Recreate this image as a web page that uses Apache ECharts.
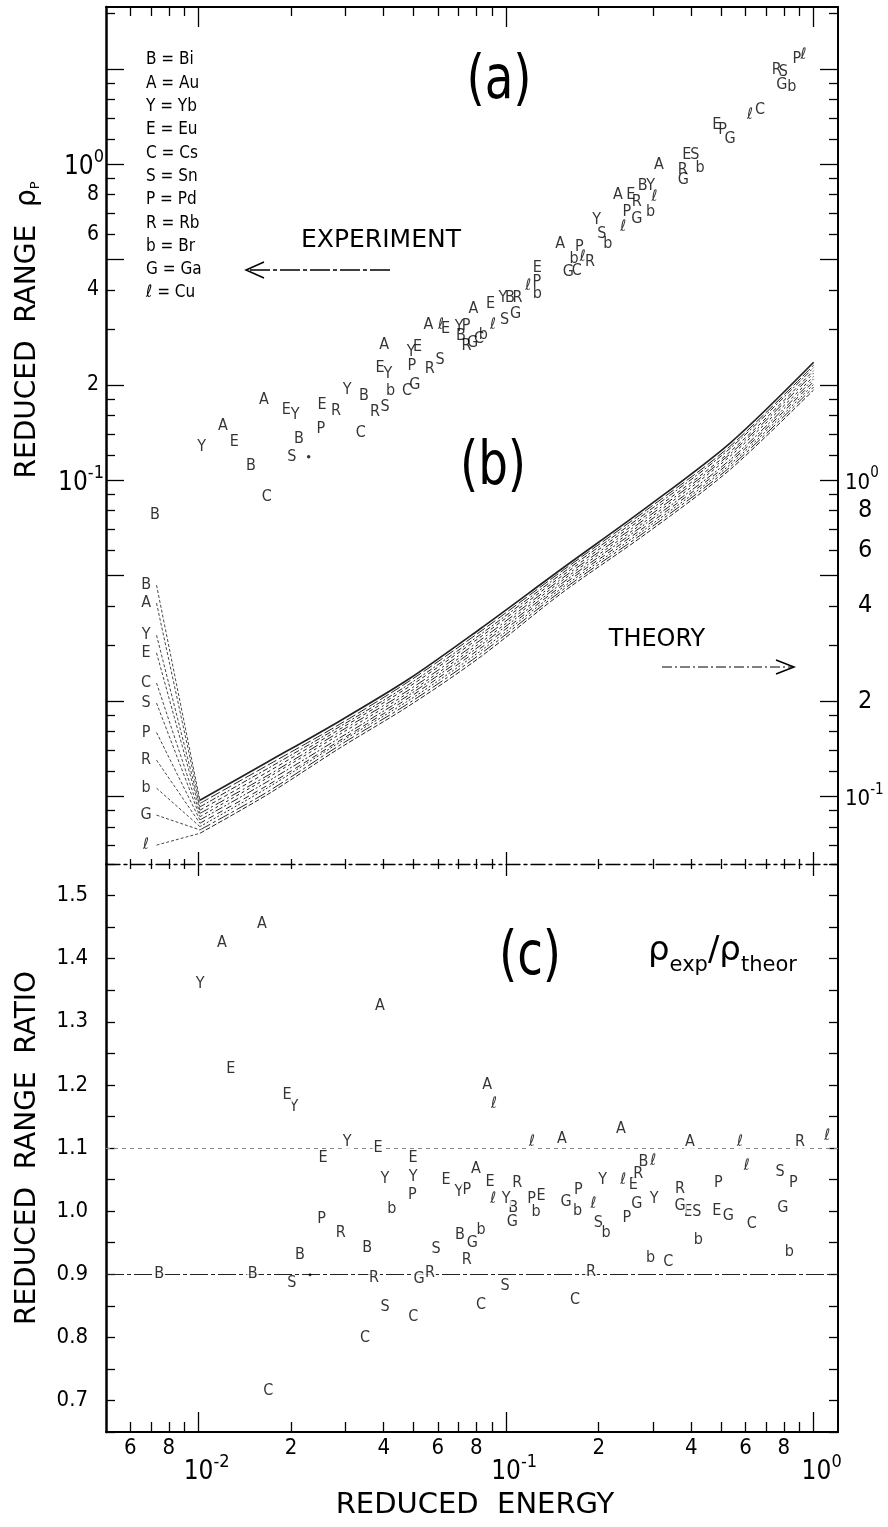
<!DOCTYPE html>
<html><head><meta charset="utf-8">
<script src="https://cdn.jsdelivr.net/npm/echarts@6/dist/echarts.min.js"></script>
<style>html,body{margin:0;padding:0;background:#fff}#c{width:888px;height:1527px}</style>
</head><body><div id="c"></div>
<script>
// ---------------- DATA ----------------
const elementLetters = ['B','A','Y','E','C','S','P','R','b','G','ℓ'];
const elementNames   = ['Bi','Au','Yb','Eu','Cs','Sn','Pd','Rb','Br','Ga','Cu'];

// (a) experiment: [reduced energy, reduced range rho_p]
const rangeBi = [[0.00721,0.0775],[0.0148,0.111],[0.0212,0.1355],[0.0345,0.1845],[0.0713,0.2867],[0.103,0.3767],[0.278,0.854]];
const rangeAu = [[0.0120,0.149],[0.0163,0.179],[0.0401,0.2675],[0.0559,0.309],[0.0783,0.349],[0.150,0.561],[0.231,0.798],[0.314,0.993]];
const rangeYb = [[0.01023,0.1274],[0.0206,0.1606],[0.0304,0.1927],[0.0413,0.2165],[0.0491,0.2551],[0.0703,0.3049],[0.0977,0.3767],[0.197,0.665],[0.295,0.854]];
const rangeEu = [[0.01306,0.1322],[0.0193,0.1665],[0.0252,0.1727],[0.0389,0.2262],[0.0515,0.2636],[0.0635,0.3016],[0.0890,0.3606],[0.1264,0.4688],[0.2542,0.798],[0.387,1.068],[0.484,1.329]];
const rangeCs = [[0.01665,0.0884],[0.0337,0.1412],[0.0476,0.1913],[0.0816,0.2793],[0.1697,0.4596],[0.669,1.482]];
const rangeSn = [[0.0201,0.1185],[0.0404,0.1709],[0.0610,0.2398],[0.0988,0.3221],[0.2046,0.6036],[0.411,1.068],[0.797,1.960]];
const rangePd = [[0.0250,0.1457],[0.0494,0.2303],[0.0741,0.3071],[0.1258,0.4242],[0.1730,0.5474],[0.2467,0.7066],[0.506,1.281],[0.881,2.160]];
const rangeRb = [[0.0280,0.1654],[0.0375,0.1641],[0.0565,0.2246],[0.0743,0.2655],[0.1089,0.3767],[0.1875,0.4907],[0.2659,0.7598],[0.3752,0.9572],[0.759,1.984]];
const rangeBr = [[0.0421,0.1920],[0.0843,0.2877],[0.1264,0.3878],[0.1663,0.5030],[0.2140,0.5612],[0.2952,0.7066],[0.4272,0.9712],[0.849,1.757]];
const rangeGa = [[0.0505,0.1998],[0.0778,0.2723],[0.1073,0.3353],[0.1594,0.4563],[0.2659,0.6733],[0.3769,0.8901],[0.5348,1.206],[0.788,1.778]];
const rangeCu = [[0.0614,0.3094],[0.0907,0.3094],[0.1181,0.4126],[0.1775,0.5089],[0.2405,0.6332],[0.3034,0.7880],[0.621,1.429],[0.926,2.213]];
const rangeDot = [[0.0228,0.1185]];

// (b) theory (right-hand axis): reduced range at theoryEnergy
const theoryEnergy = [0.0073,0.0101,0.0167,0.0288,0.0487,0.0822,0.153,0.287,0.535,1.0];
const theoryLetterEnergy = 0.00675;
const theoryBi = [0.465,0.0971,0.128,0.173,0.236,0.338,0.527,0.821,1.31,2.36];
const theoryAu = [0.408,0.0948,0.125,0.169,0.232,0.331,0.518,0.806,1.28,2.31];
const theoryYb = [0.323,0.0925,0.122,0.166,0.227,0.324,0.509,0.791,1.26,2.27];
const theoryEu = [0.284,0.0903,0.119,0.163,0.223,0.318,0.500,0.776,1.23,2.22];
const theoryCs = [0.228,0.0882,0.116,0.160,0.218,0.311,0.491,0.761,1.21,2.18];
const theorySn = [0.197,0.0861,0.114,0.157,0.214,0.305,0.483,0.747,1.19,2.13];
const theoryPd = [0.159,0.0841,0.111,0.153,0.210,0.299,0.474,0.733,1.16,2.09];
const theoryRb = [0.130,0.0821,0.108,0.150,0.206,0.293,0.466,0.719,1.14,2.05];
const theoryBr = [0.106,0.0801,0.106,0.148,0.202,0.287,0.458,0.706,1.12,2.01];
const theoryGa = [0.0871,0.0782,0.103,0.145,0.198,0.281,0.450,0.693,1.10,1.97];
const theoryCu = [0.0700,0.0763,0.101,0.142,0.194,0.275,0.442,0.680,1.08,1.93];

// (c) ratio rho_exp / rho_theor
const ratioBi = [[0.00745,0.900],[0.01499,0.900],[0.02137,0.930],[0.03537,0.942],[0.07082,0.962],[0.1055,1.005],[0.2794,1.078]];
const ratioAu = [[0.01191,1.425],[0.01608,1.455],[0.0389,1.325],[0.0798,1.067],[0.0867,1.200],[0.152,1.115],[0.236,1.130],[0.396,1.110]];
const ratioYb = [[0.01011,1.360],[0.02043,1.165],[0.03039,1.110],[0.04038,1.051],[0.0499,1.054],[0.07028,1.030],[0.09993,1.019],[0.2062,1.049],[0.3027,1.020]];
const ratioEu = [[0.01274,1.225],[0.01939,1.185],[0.02538,1.085],[0.03832,1.100],[0.04983,1.085],[0.06376,1.049],[0.08863,1.046],[0.1299,1.024],[0.2593,1.041],[0.3913,0.999],[0.4842,1.001]];
const ratioCs = [[0.01685,0.715],[0.03476,0.799],[0.0499,0.832],[0.08286,0.852],[0.1675,0.859],[0.337,0.919],[0.6291,0.980]];
const ratioSn = [[0.02009,0.886],[0.04038,0.849],[0.05916,0.941],[0.09918,0.881],[0.1995,0.982],[0.4167,0.999],[0.7775,1.062]];
const ratioPd = [[0.02513,0.988],[0.04955,1.025],[0.07446,1.033],[0.1211,1.019],[0.1717,1.033],[0.2467,0.989],[0.4899,1.044],[0.859,1.045]];
const ratioRb = [[0.02898,0.966],[0.03719,0.894],[0.05654,0.902],[0.07446,0.923],[0.1087,1.045],[0.1888,0.904],[0.2691,1.059],[0.3677,1.036],[0.9033,1.110]];
const ratioBr = [[0.04246,1.004],[0.08286,0.970],[0.1251,0.999],[0.1709,1.001],[0.2113,0.965],[0.2952,0.926],[0.4217,0.954],[0.8337,0.935]];
const ratioGa = [[0.05208,0.893],[0.07765,0.949],[0.1047,0.983],[0.1566,1.015],[0.2659,1.012],[0.3677,1.009],[0.5281,0.993],[0.7934,1.005]];
const ratioCu = [[0.09086,1.019],[0.09134,1.170],[0.1214,1.110],[0.1922,1.012],[0.2405,1.049],[0.3011,1.080],[0.5763,1.110],[0.6058,1.072],[1.106,1.120]];
const ratioDot = [[0.02303,0.899]];
const ratioRefLines = [0.9, 1.1];

// axis ranges and tick values
const X_MIN = 0.005, X_MAX = 1.2;
const YA_MIN = 0.0061, YA_MAX = 3.14;
const THEORY_FACTOR = 10;
const YC_MIN = 0.65, YC_MAX = 1.55;
const xMinorTicks = [0.006,0.007,0.008,0.009,0.02,0.03,0.04,0.05,0.06,0.07,0.08,0.09,0.2,0.3,0.4,0.5,0.6,0.7,0.8,0.9];
const xDecadeTicks = [0.01,0.1,1];
const xDigitLabels = [0.006,0.008,0.02,0.04,0.06,0.08,0.2,0.4,0.6,0.8];
const yMinorTicks = [0.007,0.008,0.009,0.012,0.014,0.016,0.018,0.03,0.04,0.06,0.07,0.08,0.09,0.12,0.14,0.16,0.18,0.3,0.4,0.6,0.7,0.8,0.9,1.2,1.4,1.6,1.8,3];
const yMajorTicks = [0.01,0.02,0.05,0.1,0.2,0.5,1,2];
const yLeftDigitLabels = [0.2,0.4,0.6,0.8];
const yLeftDecadeLabels = [0.1,1];
const yRightDigitLabels = [0.02,0.04,0.06,0.08];
const yRightDecadeLabels = [0.01,0.1];
const ratioLabels = [0.7,0.8,0.9,1.0,1.1,1.2,1.3,1.4,1.5];

// ---------------- CHART ----------------
const FONT = "'DejaVu Sans Condensed','Liberation Sans Narrow','DejaVu Sans',sans-serif";
const FONT_W = "'DejaVu Sans','Liberation Sans',sans-serif";
const INK = '#000';
const lg = a => a.map(v => Math.log10(v));
const LX0 = Math.log10(X_MIN), LX1 = Math.log10(X_MAX);
const LY0 = Math.log10(YA_MIN), LY1 = Math.log10(YA_MAX);

const digitFmt = v => { const e = Math.floor(v + 1e-9); return String(Math.round(Math.pow(10, v - e))); };
const decadeFmt = (shift, spacer) => v => (spacer ? '{sp|}' : '') + '{b|10}{s|' + (Math.round(v) + shift) + '}';
const decadeRich = (bs, ss) => ({
  b: {fontSize: bs, fontFamily: FONT, color: INK, padding: [6,0,0,0]},
  s: {fontSize: ss, fontFamily: FONT, color: INK, verticalAlign: 'top'},
  sp: {width: 16}
});

function deco(grid, position, lo, hi, o) {
  const ax = {
    type: 'value', gridIndex: grid, position: position, min: lo, max: hi, silent: true,
    axisLine: {show: !!o.line, onZero: false, lineStyle: Object.assign({color: INK, width: 2}, o.line || {})},
    axisTick: {show: !!o.ticks, inside: true, length: o.len || 8, lineStyle: {color: INK, width: 1.3}},
    axisLabel: {show: false},
    splitLine: {show: false}
  };
  if (o.ticks) ax.axisTick.customValues = o.ticks;
  if (o.labels) {
    ax.axisLabel = {show: true, customValues: o.labels, formatter: o.fmt, color: INK,
      fontFamily: FONT, fontSize: o.fs || 22, margin: o.margin || 8};
    if (o.rich) ax.axisLabel.rich = o.rich;
  }
  return ax;
}

const xAxes = [
  {type: 'log', gridIndex: 0, min: X_MIN, max: X_MAX, show: false},
  {type: 'log', gridIndex: 1, min: X_MIN, max: X_MAX, show: false},
  deco(0, 'top', LX0, LX1, {line: {width: 2}, ticks: lg(xMinorTicks), len: 9}),
  deco(0, 'top', LX0, LX1, {ticks: lg(xDecadeTicks), len: 20}),
  deco(0, 'bottom', LX0, LX1, {line: {width: 1.3, type: [14,4,3,4]}, ticks: lg(xMinorTicks), len: 5}),
  deco(0, 'bottom', LX0, LX1, {ticks: lg(xDecadeTicks), len: 12}),
  deco(1, 'top', LX0, LX1, {ticks: lg(xMinorTicks), len: 5}),
  deco(1, 'top', LX0, LX1, {ticks: lg(xDecadeTicks), len: 12}),
  deco(1, 'bottom', LX0, LX1, {line: {width: 2}, ticks: lg(xMinorTicks), len: 10,
    labels: lg(xDigitLabels), fmt: digitFmt, fs: 22, margin: 5}),
  deco(1, 'bottom', LX0, LX1, {ticks: lg(xDecadeTicks), len: 20,
    labels: lg(xDecadeTicks), fmt: decadeFmt(0, true), margin: 21, rich: decadeRich(26, 18)})
];

const yAxes = [
  {type: 'log', gridIndex: 0, min: YA_MIN, max: YA_MAX, show: false},
  {type: 'log', gridIndex: 0, min: YA_MIN * THEORY_FACTOR, max: YA_MAX * THEORY_FACTOR, show: false},
  deco(0, 'left', LY0, LY1, {line: {width: 2.5}, ticks: lg(yMinorTicks), len: 9,
    labels: lg(yLeftDigitLabels), fmt: digitFmt, fs: 21, margin: 7}),
  deco(0, 'left', LY0, LY1, {ticks: lg(yMajorTicks), len: 18,
    labels: lg(yLeftDecadeLabels), fmt: decadeFmt(0, false), margin: 2, rich: decadeRich(26, 18)}),
  deco(0, 'right', LY0, LY1, {line: {width: 2}, ticks: lg(yMinorTicks), len: 9,
    labels: lg(yRightDigitLabels), fmt: digitFmt, fs: 25, margin: 20}),
  deco(0, 'right', LY0, LY1, {ticks: lg(yMajorTicks), len: 18,
    labels: lg(yRightDecadeLabels), fmt: decadeFmt(1, false), margin: 7, rich: decadeRich(22, 15)}),
  {type: 'value', gridIndex: 1, position: 'left', min: YC_MIN, max: YC_MAX, interval: 0.05,
    axisLine: {onZero: false, lineStyle: {color: INK, width: 2.5}},
    axisTick: {inside: true, length: 9, lineStyle: {color: INK, width: 1.3}},
    axisLabel: {customValues: ratioLabels, formatter: v => v.toFixed(1), color: INK, fontFamily: FONT, fontSize: 22, margin: 18},
    splitLine: {show: false}},
  {type: 'value', gridIndex: 1, position: 'right', min: YC_MIN, max: YC_MAX, interval: 0.05,
    axisLine: {onZero: false, lineStyle: {color: INK, width: 2}},
    axisTick: {inside: true, length: 9, lineStyle: {color: INK, width: 1.3}},
    axisLabel: {show: false}, splitLine: {show: false}}
];

const letterLabel = (txt, extra) => Object.assign({show: true, position: 'inside', formatter: txt,
  color: INK, fontSize: 16, fontFamily: FONT}, extra || {});

const rangeSets = [rangeBi, rangeAu, rangeYb, rangeEu, rangeCs, rangeSn, rangePd, rangeRb, rangeBr, rangeGa, rangeCu];
const ratioSets = [ratioBi, ratioAu, ratioYb, ratioEu, ratioCs, ratioSn, ratioPd, ratioRb, ratioBr, ratioGa, ratioCu];
const theorySets = [theoryBi, theoryAu, theoryYb, theoryEu, theoryCs, theorySn, theoryPd, theoryRb, theoryBr, theoryGa, theoryCu];
const dashes = ['solid', [10,3], [6,2,2,2], [4,3], [10,3,2,3], [3,3], [8,2,2,2,2,2], [6,4], [2,2], [12,3,3,3], [5,2]];

const series = [];
rangeSets.forEach((d, i) => series.push({
  type: 'scatter', name: 'exp-' + elementNames[i], xAxisIndex: 0, yAxisIndex: 0, data: d,
  symbol: 'circle', symbolSize: 1, itemStyle: {color: 'rgba(0,0,0,0)'}, silent: true, z: 6,
  label: letterLabel(elementLetters[i])
}));
series.push({type: 'scatter', xAxisIndex: 0, yAxisIndex: 0, data: rangeDot, symbol: 'circle', symbolSize: 3.5,
  itemStyle: {color: INK}, silent: true, z: 6});

theorySets.forEach((vals, i) => {
  const pts = theoryEnergy.map((e, k) => [e, vals[k]]);
  // steep low-energy branch (from the letter to the bundle)
  series.push({
    type: 'line', name: 'theory-low-' + elementNames[i], xAxisIndex: 0, yAxisIndex: 1,
    data: pts.slice(0, 2), symbol: 'none', silent: true, z: 3,
    lineStyle: {color: '#333', width: 0.9, type: [3,2]}
  });
  // main rising branch
  series.push({
    type: 'line', name: 'theory-' + elementNames[i], xAxisIndex: 0, yAxisIndex: 1,
    data: pts.slice(1), symbol: 'none', silent: true, z: 3, smooth: 0.3,
    lineStyle: {color: '#222', width: i === 0 ? 1.7 : 1, type: dashes[i]}
  });
});
series.push({
  type: 'scatter', xAxisIndex: 0, yAxisIndex: 1, symbol: 'circle', symbolSize: 1, silent: true, z: 6,
  itemStyle: {color: 'rgba(0,0,0,0)'},
  data: theorySets.map((v, i) => ({value: [theoryLetterEnergy, v[0]], name: elementLetters[i]})),
  label: letterLabel('{b}')
});

ratioSets.forEach((d, i) => series.push({
  type: 'scatter', name: 'ratio-' + elementNames[i], xAxisIndex: 1, yAxisIndex: 6, data: d,
  symbol: 'circle', symbolSize: 1, itemStyle: {color: 'rgba(0,0,0,0)'}, silent: true, z: 10,
  label: letterLabel(elementLetters[i], {backgroundColor: '#fff', padding: [0, 1]})
}));
series.push({
  type: 'scatter', xAxisIndex: 1, yAxisIndex: 6, data: ratioDot, symbol: 'circle', symbolSize: 3,
  itemStyle: {color: INK}, silent: true, z: 10,
  markLine: {silent: true, symbol: ['none', 'none'], z: 1, label: {show: false}, animation: false,
    data: [
      {yAxis: ratioRefLines[0], lineStyle: {color: '#222', width: 1.1, type: [18,3,4,3]}},
      {yAxis: ratioRefLines[1], lineStyle: {color: '#888', width: 1, type: [4,4]}}
    ]}
});

// ---- texts & arrows ----
const T = (x, y, text, o) => Object.assign({type: 'text', x: x, y: y, silent: true, z: 20,
  style: Object.assign({text: text, fill: INK, fontFamily: FONT_W, fontSize: 24,
    align: 'center', verticalAlign: 'middle', textAlign: 'center', textVerticalAlign: 'middle'}, o.style || {})}, o.el || {});

const graphic = [];
elementLetters.forEach((L, i) => graphic.push(T(146, 60 + 23.3 * i, L + ' = ' + elementNames[i],
  {style: {fontSize: 17, fontFamily: FONT, align: 'left', textAlign: 'left'}})));
graphic.push(T(499, 82, '(a)', {style: {fontSize: 60}, el: {scaleX: 0.78}}));
graphic.push(T(493, 468, '(b)', {style: {fontSize: 60}, el: {scaleX: 0.78}}));
graphic.push(T(530, 958, '(c)', {style: {fontSize: 60}, el: {scaleX: 0.78}}));
graphic.push(T(648, 955, '{r|ρ}{s|exp}{r|/ρ}{s|theor}', {style: {align: 'left', textAlign: 'left',
  rich: {r: {fontSize: 34, fontFamily: FONT_W, fill: INK, padding: [0,0,8,0]},
         s: {fontSize: 21, fontFamily: FONT_W, fill: INK, verticalAlign: 'bottom'}}}}));
graphic.push(T(381, 240, 'EXPERIMENT', {style: {fontSize: 25}}));
graphic.push(T(657, 640, 'THEORY', {style: {fontSize: 24}}));
graphic.push(T(28, 330, '{t|REDUCED  RANGE  ρ}{s|P}', {el: {rotation: Math.PI / 2},
  style: {rich: {t: {fontSize: 28, fontFamily: FONT_W, fill: INK}, s: {fontSize: 13, fontFamily: FONT_W, fill: INK, verticalAlign: 'bottom'}}}}));
graphic.push(T(28, 1148, 'REDUCED  RANGE  RATIO', {el: {rotation: Math.PI / 2}, style: {fontSize: 28}}));
graphic.push(T(475, 1505, 'REDUCED  ENERGY', {style: {fontSize: 29}}));
// arrows
graphic.push({type: 'line', silent: true, shape: {x1: 390, y1: 270, x2: 248, y2: 270},
  style: {stroke: INK, lineWidth: 1.3, lineDash: [20,3,4,3]}});
graphic.push({type: 'polyline', silent: true, shape: {points: [[264,262],[246,270],[264,278]]},
  style: {stroke: INK, lineWidth: 1.5, fill: null}});
graphic.push({type: 'line', silent: true, shape: {x1: 662, y1: 667, x2: 792, y2: 667},
  style: {stroke: INK, lineWidth: 1.2, lineDash: [10,3,2,3]}});
graphic.push({type: 'polyline', silent: true, shape: {points: [[776,660],[794,667],[776,674]]},
  style: {stroke: INK, lineWidth: 1.5, fill: null}});

const chart = echarts.init(document.getElementById('c'), null, {renderer: 'canvas'});
chart.setOption({
  backgroundColor: '#fff',
  animation: false,
  grid: [
    {left: 106, right: 50, top: 7, height: 857, containLabel: false, outerBoundsMode: 'none'},
    {left: 106, right: 50, top: 864, height: 568, containLabel: false, outerBoundsMode: 'none'}
  ],
  xAxis: xAxes,
  yAxis: yAxes,
  series: series,
  graphic: graphic
});
</script>
</body></html>
